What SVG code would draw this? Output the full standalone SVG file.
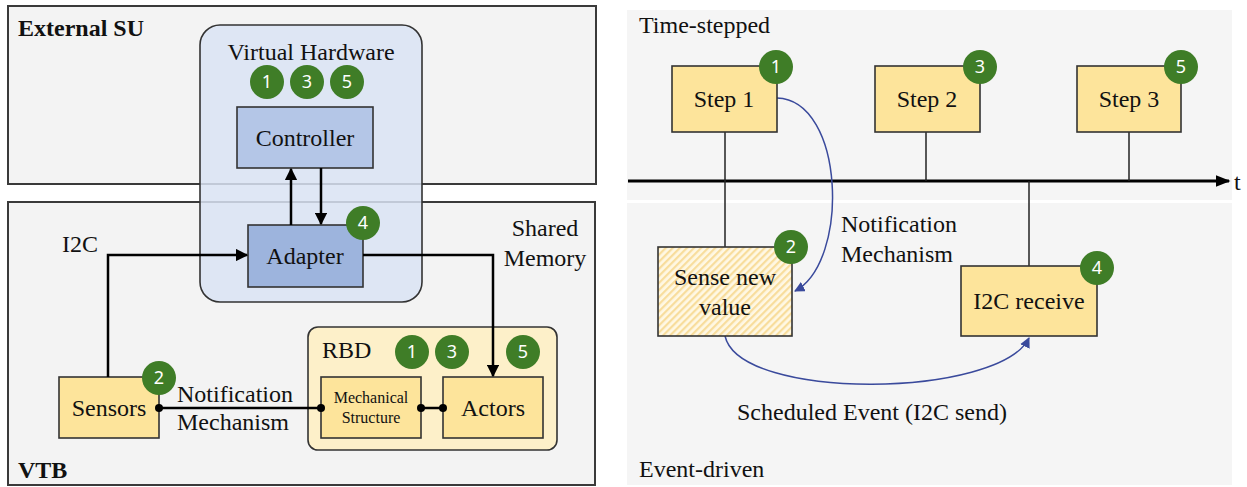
<svg xmlns="http://www.w3.org/2000/svg" width="1247" height="487" viewBox="0 0 1247 487">
<defs>
<style>
.lbl{font-family:'Liberation Serif','DejaVu Serif','Noto Serif',serif;font-size:24px;fill:#111}
.bold{font-weight:bold}
.small{font-size:16px}
.mid{text-anchor:middle}
.panel{fill:#f3f3f3;stroke:#3a3a3a;stroke-width:2}
.ybox{fill:#fde49b;stroke:#333;stroke-width:1.6}
.bbox{stroke:#333;stroke-width:1.6}
.badge circle{fill:#3f7d27}
.badge text{font-family:'Noto Sans','Liberation Sans',sans-serif;font-size:18px;fill:#fff;text-anchor:middle}
.wire{fill:none;stroke:#000;stroke-width:2.5}
.thin{fill:none;stroke:#222;stroke-width:1.5}
.blue{fill:none;stroke:#3a4a9c;stroke-width:1.5}
.dot{fill:#000}
.bg{fill:#f5f5f5}
</style>
<marker id="ah" viewBox="0 0 10 10" refX="9" refY="5" markerWidth="5" markerHeight="5" orient="auto" markerUnits="strokeWidth"><path d="M0,0 L10,5 L0,10 z" fill="#000"/></marker>
<marker id="ahb" viewBox="0 0 10 10" refX="9" refY="5" markerWidth="7" markerHeight="7" orient="auto" markerUnits="strokeWidth"><path d="M0,0 L10,5 L0,10 z" fill="#3a4a9c"/></marker>
<marker id="aht" viewBox="0 0 10 10" refX="9" refY="5" markerWidth="5" markerHeight="5" orient="auto" markerUnits="strokeWidth"><path d="M0,1 L10,5 L0,9 z" fill="#000"/></marker>
<pattern id="hatch" width="5" height="5" patternUnits="userSpaceOnUse" patternTransform="rotate(45)">
<rect width="5" height="5" fill="#fff8e4"/>
<rect width="2.2" height="5" fill="#f8dd9c"/>
</pattern>
</defs>
<rect width="1247" height="487" fill="#ffffff"/>

<!-- Left panel -->
<g id="external-su">
<rect class="panel" x="8" y="6" width="588" height="178"/>
<text class="lbl bold" x="18" y="36" font-family="Liberation Serif, DejaVu Serif, serif">External SU</text>
</g>
<g id="vtb">
<rect class="panel" x="8" y="202" width="587" height="283"/>
<text class="lbl bold" x="18" y="478" font-family="Liberation Serif, DejaVu Serif, serif">VTB</text>
</g>
<g id="virtual-hardware">
<rect x="200" y="25" width="222" height="277" rx="20" fill="#d9e3f3" fill-opacity="0.85" stroke="#333" stroke-width="1.6"/>
<text class="lbl mid" x="311" y="60">Virtual Hardware</text>
</g>
<g id="controller">
<rect class="bbox" x="237" y="107" width="136" height="61" fill="#b4c6e7"/>
<text class="lbl mid" x="305" y="146">Controller</text>
</g>
<g id="adapter">
<rect class="bbox" x="248" y="225" width="115" height="62" fill="#9db4dd"/>
<text class="lbl mid" x="305" y="264">Adapter</text>
</g>
<g id="rbd">
<rect x="308" y="327" width="249" height="123" rx="10" fill="#fdf0c9" stroke="#333" stroke-width="1.6"/>
<text class="lbl" x="322" y="358">RBD</text>
</g>
<g id="mechanical-structure">
<rect class="ybox" x="321" y="377" width="100" height="61"/>
<text class="lbl small mid" x="371" y="403">Mechanical</text>
<text class="lbl small mid" x="371" y="423">Structure</text>
</g>
<g id="actors">
<rect class="ybox" x="443" y="377" width="100" height="61"/>
<text class="lbl mid" x="493" y="416">Actors</text>
</g>
<g id="sensors">
<rect class="ybox" x="59" y="377" width="100" height="61"/>
<text class="lbl mid" x="109" y="416">Sensors</text>
</g>

<!-- Right panel -->
<g id="time-stepped">
<rect class="bg" x="627" y="10" width="605" height="190"/>
<text class="lbl" x="639" y="33">Time-stepped</text>
</g>
<g id="event-driven">
<rect class="bg" x="627" y="203" width="605" height="282"/>
<text class="lbl" x="639" y="477">Event-driven</text>
</g>

<g id="connectors">
<line class="wire" x1="291" y1="225" x2="291" y2="169" marker-end="url(#ah)"/>
<line class="wire" x1="321" y1="168" x2="321" y2="224" marker-end="url(#ah)"/>
<polyline class="wire" points="108,377 108,255 247,255" marker-end="url(#ah)"/>
<polyline class="wire" points="363,255 493,255 493,376" marker-end="url(#ah)"/>
<line class="wire" x1="159" y1="408" x2="321" y2="408"/>
<line class="wire" x1="421" y1="408" x2="443" y2="408"/>
<circle class="dot" cx="159" cy="408" r="4"/>
<circle class="dot" cx="321" cy="408" r="4"/>
<circle class="dot" cx="421" cy="408" r="4"/>
<circle class="dot" cx="443" cy="408" r="4"/>
<line x1="628" y1="181" x2="1229" y2="181" stroke="#000" stroke-width="3" marker-end="url(#aht)"/>
<line class="thin" x1="725" y1="132" x2="725" y2="247"/>
<line class="thin" x1="926" y1="132" x2="926" y2="181"/>
<line class="thin" x1="1129" y1="132" x2="1129" y2="181"/>
<line class="thin" x1="1029" y1="181" x2="1029" y2="266"/>
<path class="blue" d="M777,98 C845,100 850,262 795,291" marker-end="url(#ahb)"/>
<path class="blue" d="M725,336 C740,402 1000,398 1029,338" marker-end="url(#ahb)"/>
</g>

<g id="labels">
<text class="lbl" x="62" y="252">I2C</text>
<text class="lbl mid" x="545" y="236">Shared</text>
<text class="lbl mid" x="545" y="266">Memory</text>
<text class="lbl" x="177" y="402">Notification</text>
<text class="lbl" x="177" y="430">Mechanism</text>
<text class="lbl" x="841" y="232">Notification</text>
<text class="lbl" x="841" y="262">Mechanism</text>
<text class="lbl" x="737" y="420">Scheduled Event (I2C send)</text>
<text class="lbl" x="1234" y="190">t</text>
</g>

<g id="step1">
<rect class="ybox" x="672" y="66" width="105" height="66"/>
<text class="lbl mid" x="724" y="107">Step 1</text>
</g>
<g id="step2">
<rect class="ybox" x="875" y="66" width="105" height="66"/>
<text class="lbl mid" x="927" y="107">Step 2</text>
</g>
<g id="step3">
<rect class="ybox" x="1077" y="66" width="104" height="66"/>
<text class="lbl mid" x="1129" y="107">Step 3</text>
</g>
<g id="sense-new-value">
<rect x="658" y="247" width="134" height="89" fill="url(#hatch)" stroke="#333" stroke-width="1.6"/>
<text class="lbl mid" x="725" y="285">Sense new</text>
<text class="lbl mid" x="725" y="315">value</text>
</g>
<g id="i2c-receive">
<rect class="ybox" x="961" y="266" width="136" height="70"/>
<text class="lbl mid" x="1029" y="309">I2C receive</text>
</g>

<g id="badges">
<g class="badge"><circle cx="267" cy="82" r="17"/><text x="267" y="88">1</text></g>
<g class="badge"><circle cx="307" cy="82" r="17"/><text x="307" y="88">3</text></g>
<g class="badge"><circle cx="347" cy="82" r="17"/><text x="347" y="88">5</text></g>
<g class="badge"><circle cx="363" cy="223" r="17"/><text x="363" y="229">4</text></g>
<g class="badge"><circle cx="412" cy="352" r="17"/><text x="412" y="358">1</text></g>
<g class="badge"><circle cx="452" cy="352" r="17"/><text x="452" y="358">3</text></g>
<g class="badge"><circle cx="523" cy="352" r="17"/><text x="523" y="358">5</text></g>
<g class="badge"><circle cx="159" cy="378" r="17"/><text x="159" y="384">2</text></g>
<g class="badge"><circle cx="776" cy="67" r="17"/><text x="776" y="73">1</text></g>
<g class="badge"><circle cx="980" cy="67" r="17"/><text x="980" y="73">3</text></g>
<g class="badge"><circle cx="1181" cy="67" r="17"/><text x="1181" y="73">5</text></g>
<g class="badge"><circle cx="791" cy="247" r="17"/><text x="791" y="253">2</text></g>
<g class="badge"><circle cx="1097" cy="268" r="17"/><text x="1097" y="274">4</text></g>
</g>
</svg>
